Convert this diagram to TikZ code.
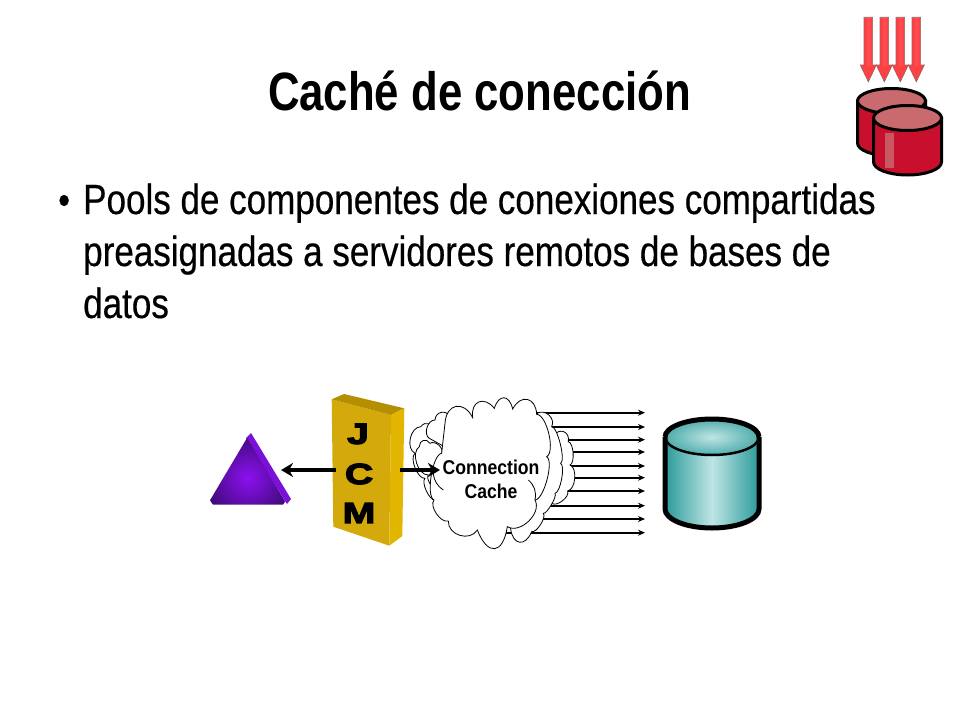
\documentclass[tikz,border=0pt]{standalone}
\usepackage{fontspec}
\setmainfont{Liberation Sans}
\newfontfamily\titlefont[FakeStretch=0.81]{Liberation Sans Bold}
\newfontfamily\bodyfont[FakeStretch=0.83,FakeBold=0.4]{Liberation Sans}
\newfontfamily\smallfont[FakeStretch=0.88]{Liberation Sans Bold}
\newfontfamily\jcmfont[FakeStretch=1.35,FakeBold=4.5]{Liberation Sans Bold}
\usetikzlibrary{arrows.meta}
\definecolor{jcmfront}{HTML}{D3A90C}
\definecolor{jcmtop}{HTML}{B48F00}
\definecolor{jcmside}{HTML}{E2B600}
\definecolor{tealedge}{HTML}{2B9A9A}
\definecolor{teallight}{HTML}{BFE5E5}
\definecolor{crimson}{HTML}{C8102E}
\definecolor{rosetop}{HTML}{C86A6E}
\definecolor{arrowred}{HTML}{FF3F42}
\definecolor{trilight}{HTML}{8C10F0}
\definecolor{tridark}{HTML}{3F0A78}
\definecolor{triside}{HTML}{7B10D8}
\tikzset{
  bodyline/.style={anchor=base west,inner sep=0pt,font=\bodyfont\fontsize{42.2}{42}\selectfont},
  jcmletter/.style={inner sep=0pt,font=\jcmfont\fontsize{29}{29}\selectfont},
  cachelabel/.style={inner sep=0pt,font=\smallfont\fontsize{20}{20}\selectfont},
  thinarrow/.style={draw=black,line width=1.6pt,-{Stealth[length=7pt,width=6pt]}},
  fatarrow/.style={draw=black,line width=4pt,-{Stealth[length=12pt,width=14pt]}},
  cloudline/.style={draw=black,fill=white,line width=0.8pt},
  redarrow/.style={draw=gray!80!red,line width=0.7pt,fill=arrowred}
}
\newcommand{\redarrowat}[1]{%
  \path[redarrow] (#1-4.3,17.3) -- (#1+4.3,17.3) -- (#1+4.3,65) -- (#1+8,65) -- (#1,81.7) -- (#1-8,65) -- (#1-4.3,65) -- cycle;
  \shade[left color=arrowred,right color=arrowred,middle color=red!55!white,opacity=.35] (#1-3,18) rectangle (#1+3,65);}
\newcommand{\cloudshape}[2]{\path[cloudline] #1 foreach \xx/\yy/\bb in {#2} { to[bend left=75,looseness=\bb] (\xx,\yy) } -- cycle;}
\begin{document}
\begin{tikzpicture}[x=1pt,y=-1pt]
\useasboundingbox[fill=white] (0,0) rectangle (960,720);
% title and body
\node[anchor=base,inner sep=0pt,font=\titlefont\fontsize{54}{54}\selectfont] (title) at (479.5,110) {Caché de conección};
\node[anchor=base west,inner sep=0pt,font=\bodyfont\fontsize{40.8}{41}\selectfont] (bullet) at (58,214) {•};
\node[bodyline] (l1) at (83,214) {Pools de componentes de conexiones compartidas};
\node[bodyline] (l2) at (83,266) {preasignadas a servidores remotos de bases de};
\node[bodyline] (l3) at (83,318) {datos};
% red arrows
\redarrowat{868.3}\redarrowat{884.3}\redarrowat{900.3}\redarrowat{916.3}
% red cylinders
\path[draw=black,line width=3pt,fill=crimson] (857.5,101) -- (857.5,143) arc[start angle=180,end angle=0,x radius=34,y radius=13] -- (925.5,101) -- cycle;
\path[draw=black,line width=3pt,fill=rosetop] (891.5,101) ellipse[x radius=34,y radius=12.5];
\path[draw=black,line width=3pt,fill=crimson] (873.5,118) -- (873.5,162) arc[start angle=180,end angle=0,x radius=34,y radius=13] -- (941.5,118) -- cycle;
\fill[rosetop!80!crimson] (884.5,133) rectangle (894,168);
\path[draw=black,line width=3pt,fill=rosetop] (907.5,118) ellipse[x radius=34,y radius=12.5];
% triangle
\fill[triside] (251,433) -- (291,499) -- (287,504) -- (246,438) -- cycle;
\begin{scope}
\clip (247,438) -- (207.5,504.5) -- (287,504.5) -- cycle;
\shade[inner color=trilight,outer color=tridark] (248,478) circle (44);
\end{scope}
\coordinate (tri) at (281,470);
% JCM block
\fill[jcmfront] (331.7,399.3) -- (391,415) -- (389.3,545.7) -- (333.3,526.7) -- cycle;
\fill[jcmtop] (331.7,399.3) -- (344,394) -- (404.3,408.3) -- (391,415) -- cycle;
\fill[jcmside] (391,415) -- (404.3,408.3) -- (402.3,536) -- (389.3,545.7) -- cycle;
\node[jcmletter] (j) at (358,434) {J};
\node[jcmletter] (c) at (359,474) {C};
\node[jcmletter] (m) at (359,513) {M};
\coordinate (jcml) at (336,470);
\coordinate (jcmr) at (400,470);
% thin arrows
\foreach \i/\yy in {a/412.7,b/427,c/439.7,d/452,e/466,f/477.7,g/491,h/505.7,i/519,j/532.7}{
  \coordinate (s\i) at (500,\yy);
  \coordinate (e\i) at (645,\yy);
  \draw[thinarrow] (s\i) -- (e\i);
}
% cloud
\begin{scope}[shift={(400pt,-385pt)},x=0.3333pt,y=-0.3333pt]
% far right and far left lobes
\cloudshape{(300,250) -- (462,150)}{505/170/1.6,510/240/0.6,503/318/0.8,455/355/0.8}
\cloudshape{(250,250) -- (105,345)}{75/280/0.6,45/205/0.7,62/125/1.0,100/140/1.5}
% middle lobes
\cloudshape{(300,250) -- (412,85)}{455/125/1.2,482/235/0.4,465/325/0.45,430/385/0.4,395/440/0.6,332/432/2}
\cloudshape{(250,250) -- (110,310)}{85/270/0.7,58/185/0.9,90/175/1.5,125/205/1}
\cloudshape{(250,250) -- (88,160)}{105/105/1.0,150/95/1.4}
% front cloud
\cloudshape{(135,115)}{218/98/1.8,283/70/1.8,338/72/2.1,410/88/1.8,440/215/0.6,405/345/0.5,322/425/1,232/435/2.4,145/408/1.2,102/345/0.8,125/205/0.5}
\draw[line width=0.8pt] (385,285) to[bend left=30] (405,345);
\draw[line width=0.8pt] (130,315) to[bend left=25] (100,265);
\end{scope}
\node[cachelabel] (cache1) at (491,467) {Connection};
\node[cachelabel] (cache2) at (491,491) {Cache};
\coordinate (cachein) at (440,470);
\draw[fatarrow] (jcml) -- (tri);
\draw[fatarrow] (jcmr) -- (cachein);
% teal cylinder
\shade[left color=tealedge,right color=tealedge,middle color=teallight] (665,437) -- (665,509) arc[start angle=180,end angle=0,x radius=47,y radius=19] -- (759,437) -- cycle;
\begin{scope}
\clip (712,437) ellipse[x radius=47,y radius=18];
\shade[inner color=teallight,outer color=tealedge] (712,437) ellipse[x radius=62,y radius=24];
\end{scope}
\draw[line width=2.5pt] (665,437) arc[start angle=180,end angle=0,x radius=47,y radius=18];
\draw[line width=5pt] (665,437) arc[start angle=180,end angle=360,x radius=47,y radius=18];
\draw[line width=5pt] (665,437) -- (665,509) arc[start angle=180,end angle=0,x radius=47,y radius=19] -- (759,437);
\end{tikzpicture}
\end{document}
